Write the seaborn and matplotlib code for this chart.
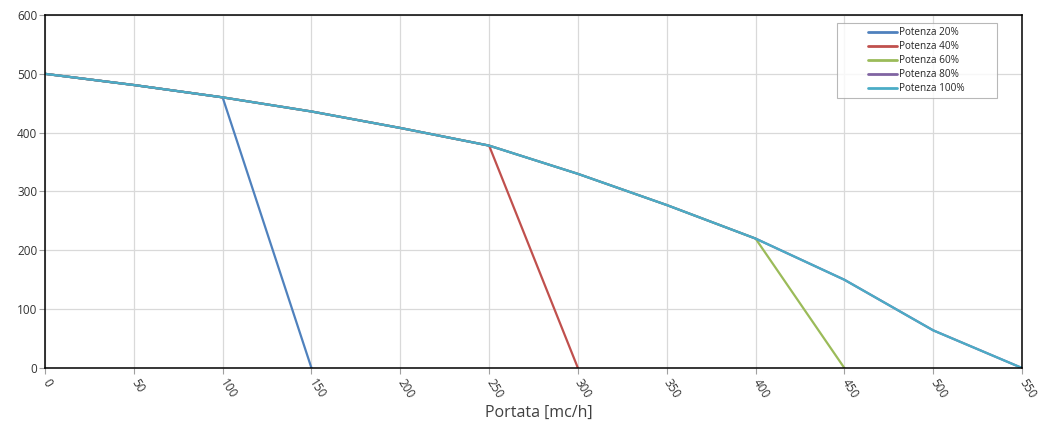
import matplotlib
matplotlib.use("Agg")
import matplotlib.pyplot as plt
from matplotlib.legend_handler import HandlerLine2D
from matplotlib.lines import Line2D
import seaborn as sns
import pandas as pd

# Data
portata_100 = [0, 50, 100, 150, 200, 250, 300, 350, 400, 450, 500, 550]
pressione_100 = [500, 481, 460, 436, 408, 378, 330, 277, 220, 150, 64, 0]

portata_20 = [0, 50, 100, 150]
pressione_20 = [500, 481, 460, 0]

portata_40 = [0, 50, 100, 150, 200, 250, 300]
pressione_40 = [500, 481, 460, 436, 408, 378, 0]

portata_60 = [0, 50, 100, 150, 200, 250, 300, 350, 400, 450]
pressione_60 = [500, 481, 460, 436, 408, 378, 330, 277, 220, 0]

portata_80 = [0, 50, 100, 150, 200, 250, 300, 350, 400, 450, 500, 550]
pressione_80 = [500, 481, 460, 436, 408, 378, 330, 277, 220, 150, 64, 0]

series_names = ["Potenza 20%", "Potenza 40%", "Potenza 60%", "Potenza 80%", "Potenza 100%"]
series_colors = ["#4F81BD", "#C0504D", "#9BBB59", "#8064A2", "#4BACC6"]

x_ticks = list(range(0, 551, 50))
y_ticks = list(range(0, 601, 100))

frames = []
for name, xs, ys in zip(
    series_names,
    [portata_20, portata_40, portata_60, portata_80, portata_100],
    [pressione_20, pressione_40, pressione_60, pressione_80, pressione_100],
):
    frames.append(pd.DataFrame({"Portata": xs, "Pressione": ys, "Serie": name}))
df = pd.concat(frames, ignore_index=True)

sns.set_theme(style="white")
plt.rcParams["font.family"] = ["Open Sans", "DejaVu Sans"]

fig = plt.figure(figsize=(10.43, 4.23), dpi=100)
ax = fig.add_axes([45 / 1043, 55 / 423, 977 / 1043, 353 / 423])

sns.lineplot(
    data=df, x="Portata", y="Pressione", hue="Serie",
    hue_order=series_names, palette=dict(zip(series_names, series_colors)),
    sort=False, estimator=None, linewidth=1.6, ax=ax,
)

ax.set_xlim(0, 550)
ax.set_ylim(0, 600)
ax.set_xticks(x_ticks)
ax.set_yticks(y_ticks)
ax.set_xticklabels([str(v) for v in x_ticks], rotation=-58, ha="left", va="center",
                   rotation_mode="anchor", fontsize=8.5, color="#333333")
ax.set_yticklabels([str(v) for v in y_ticks], fontsize=8.5, color="#333333")
ax.tick_params(axis="both", which="both", length=4, width=0.8, color="#a0a0a0",
               direction="out", left=True, bottom=True)
ax.tick_params(axis="y", pad=1.5)
ax.tick_params(axis="x", pad=5)

ax.grid(True, color="#d9d9d9", linewidth=0.9)
ax.set_axisbelow(True)
for side in ["left", "bottom", "top", "right"]:
    ax.spines[side].set_color("black")
    ax.spines[side].set_linewidth(1.1)
    ax.spines[side].set_visible(True)

ax.set_xlabel("Portata [mc/h]", fontsize=11.5, color="#404040", labelpad=2)
ax.xaxis.set_label_coords(0.505, -0.105)
ax.set_ylabel("")

handles = [Line2D([], [], color=c, linewidth=2.0) for c in series_colors]
leg = ax.legend(
    handles, series_names,
    loc="upper left", bbox_to_anchor=(0.8106, 0.782, 0.164, 0.195),
    mode="expand", fontsize=7.2, frameon=True, fancybox=False,
    edgecolor="#a6a6a6", handlelength=5.6, handletextpad=0.2, labelspacing=0.3,
    borderpad=0.4, borderaxespad=0,
    handler_map={Line2D: HandlerLine2D(xpad=2.7)},
)
leg.get_frame().set_linewidth(0.8)

fig.savefig("out.png", dpi=100, facecolor="white")
